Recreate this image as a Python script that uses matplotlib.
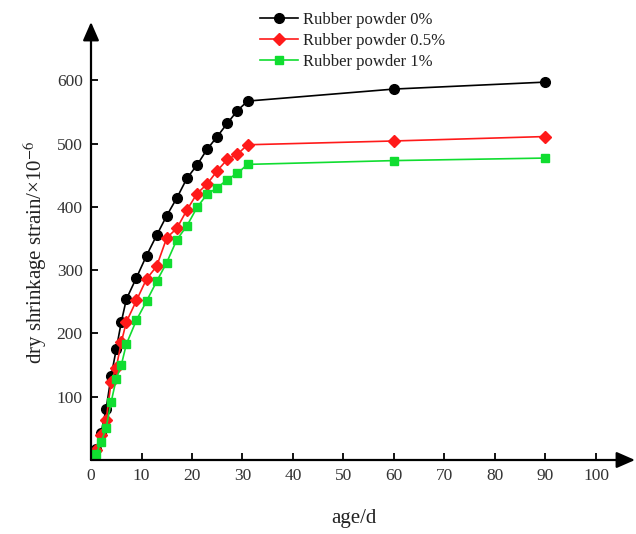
import matplotlib
matplotlib.use("Agg")
import matplotlib.pyplot as plt

# Drying shrinkage of mortar vs. curing age for three rubber powder dosages
age_days = [1, 2, 3, 4, 5, 6, 7, 9, 11, 13, 15, 17, 19, 21, 23, 25, 27, 29, 31, 60, 90]
strain_0 = [17, 43, 81, 133, 175, 218, 254, 288, 323, 355, 386, 414, 445, 466, 491,
            511, 532, 552, 567, 586, 597]
strain_05 = [16, 40, 63, 124, 146, 186, 218, 252, 286, 306, 351, 366, 395, 421, 436,
             457, 475, 483, 498, 504, 511]
strain_1 = [10, 28, 51, 92, 128, 150, 183, 221, 251, 282, 312, 348, 370, 399, 420,
            430, 443, 453, 467, 473, 477]
series_labels = ["Rubber powder 0%", "Rubber powder 0.5%", "Rubber powder 1%"]
x_ticks = list(range(0, 101, 10))
y_ticks = [100, 200, 300, 400, 500, 600]

plt.rcParams["font.family"] = ["Liberation Serif", "DejaVu Serif"]
plt.rcParams["mathtext.fontset"] = "stix"

W, H = 636, 534
fig = plt.figure(figsize=(W / 100, H / 100), dpi=100)

# axes frame in pixels: origin at (91, 460), x to 635, y up to 22
left_px, bottom_px, right_px, top_px = 91, 460, 635, 22
ax = fig.add_axes([left_px / W, 1 - bottom_px / H,
                   (right_px - left_px) / W, (bottom_px - top_px) / H])
ax.set_xlim(0, (right_px - left_px) / 5.05)
ax.set_ylim(0, (bottom_px - top_px) / 0.633)

styles = [
    dict(color="black", marker="o", markersize=7),
    dict(color="#ff1a1a", marker="D", markersize=5.8),
    dict(color="#10dd30", marker="s", markersize=6.2),
]
for ys, lab, st in zip([strain_0, strain_05, strain_1], series_labels, styles):
    ax.plot(age_days, ys, color=st["color"], lw=1.2, marker=st["marker"],
            markersize=st["markersize"], markerfacecolor=st["color"],
            markeredgecolor=st["color"], label=lab, clip_on=False, zorder=3)

for s in ax.spines.values():
    s.set_visible(False)

arrow = dict(arrowstyle="-|>,head_length=0.8,head_width=0.35", lw=1.6,
             color="black", shrinkA=0, shrinkB=0, mutation_scale=14)
ax.annotate("", xy=(0, 1), xytext=(0, 0), xycoords="axes fraction",
            textcoords="axes fraction", arrowprops=arrow, annotation_clip=False)
ax.annotate("", xy=(1, 0), xytext=(0, 0), xycoords="axes fraction",
            textcoords="axes fraction", arrowprops=arrow, annotation_clip=False)

ax.set_xticks(x_ticks)
ax.set_yticks(y_ticks)
ax.tick_params(direction="in", length=5, width=1.3, labelsize=12.5, pad=6,
               colors="black")
for lbl in ax.get_xticklabels() + ax.get_yticklabels():
    lbl.set_color("#333333")

fig.text(354 / W, 1 - 518 / H, "age/d", fontsize=15, ha="center", va="center",
         color="#222222")
fig.text(35 / W, 1 - 252 / H, r"dry shrinkage strain/×10$^{-6}$", fontsize=15,
         rotation=90, ha="center", va="center", color="#222222")

leg = ax.legend(loc="upper left", bbox_to_anchor=(260 / W, 1 - 12 / H),
                bbox_transform=fig.transFigure, frameon=False, fontsize=12,
                borderpad=0, borderaxespad=0, handlelength=2.3,
                handletextpad=0.3, labelspacing=0.3)
for t in leg.get_texts():
    t.set_color("#222222")

fig.savefig("out.png", dpi=100)
